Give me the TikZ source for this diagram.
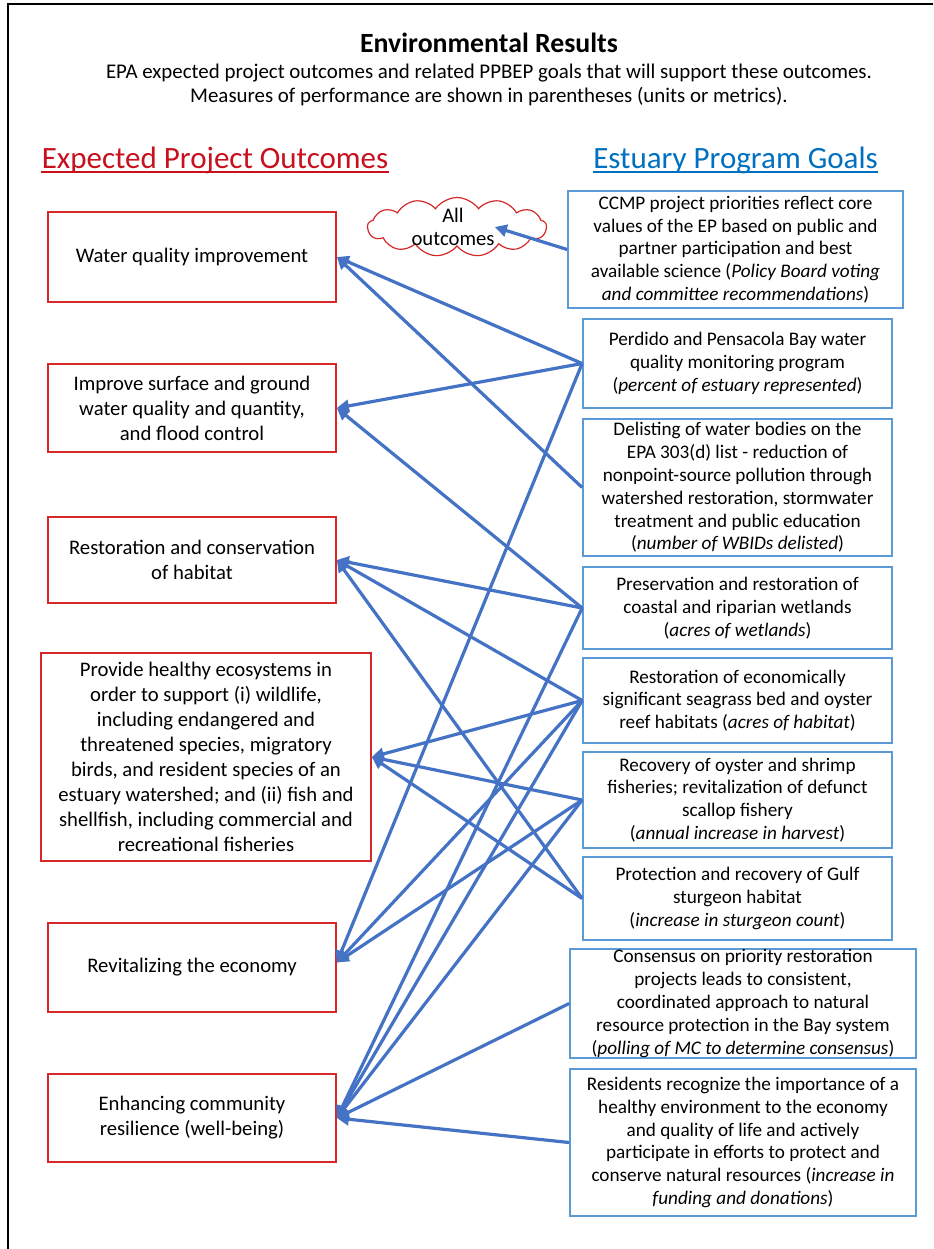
\documentclass[tikz,border=0pt]{standalone}
\usepackage{fontspec}
\setmainfont{Carlito}
\usetikzlibrary{arrows.meta,shapes.symbols}
\definecolor{lred}{RGB}{214,40,40}
\definecolor{hred}{RGB}{200,16,30}
\definecolor{bblue}{RGB}{91,155,213}
\definecolor{hblue}{RGB}{0,112,192}
\definecolor{cblue}{RGB}{68,114,196}
\tikzset{
  lbox/.style={draw=lred, line width=0.85pt, inner sep=0pt, align=center,
    font=\fontsize{10.35}{12.5}\selectfont},
  rbox/.style={draw=bblue, line width=0.85pt, inner sep=0pt, align=center,
    font=\fontsize{9.6}{11.4}\selectfont},
  conn/.style={draw=cblue, line width=1.6pt, -{Triangle[length=6pt,width=6pt]}},
  frameline/.style={draw=black, line width=1.25pt},
  hdr/.style={font=\fontsize{15.5}{18}\selectfont, anchor=base, inner sep=0pt},
}
\begin{document}
\begin{tikzpicture}[x=0.5pt,y=-0.5pt]
\useasboundingbox (0,0) rectangle (933,1249);
\fill[white] (0,0) rectangle (933,1249);
% frame
\draw[frameline] (933,4) -- (8,4) -- (8,1249);

% title
\node[font=\fontsize{13.9}{15}\selectfont\bfseries, anchor=base, inner sep=0pt] (title) at (489,52) {Environmental Results};
\node[font=\fontsize{10.45}{12}\selectfont, anchor=base, inner sep=0pt] (sub1) at (489,78) {EPA expected project outcomes and related PPBEP goals that will support these outcomes.};
\node[font=\fontsize{10.45}{12}\selectfont, anchor=base, inner sep=0pt] (sub2) at (489,102) {Measures of performance are shown in parentheses (units or metrics).};

% headers
\node[hdr, text=hred] (hl) at (215,168) {Expected Project Outcomes};
\draw[hred, line width=1pt] ([yshift=-2pt]hl.base west) -- ([yshift=-2pt]hl.base east);
\node[hdr, text=hblue] (hr) at (735.5,168) {Estuary Program Goals};
\draw[hblue, line width=1pt] ([yshift=-2pt]hr.base west) -- ([yshift=-2pt]hr.base east);

% cloud
\node[cloud, draw=lred, line width=0.6pt, cloud puffs=13, cloud puff arc=110, cloud ignores aspect,
  minimum width=89.5pt, minimum height=29.5pt, inner sep=0pt] (cl) at (457,227) {};
\node[font=\fontsize{10.35}{11.5}\selectfont, align=center, inner sep=0pt] (alltxt) at (453,227) {All\\outcomes};

% left boxes
\node[lbox, minimum width=144pt, minimum height=45pt] (l1) at (192,257) {Water quality improvement};
\node[lbox, minimum width=144pt, minimum height=44pt] (l2) at (192,408) {Improve surface and ground\\water quality and quantity,\\and flood control};
\node[lbox, minimum width=144pt, minimum height=43pt] (l3) at (192,560) {Restoration and conservation\\of habitat};
\node[lbox, minimum width=165pt, minimum height=104pt] (l4) at (206,757) {Provide healthy ecosystems in\\order to support (i) wildlife,\\including endangered and\\threatened species, migratory\\birds, and resident species of an\\estuary watershed; and (ii) fish and\\shellfish, including commercial and\\recreational fisheries};
\node[lbox, minimum width=144pt, minimum height=44.5pt] (l5) at (192,967.5) {Revitalizing the economy};
\node[lbox, minimum width=144pt, minimum height=44pt] (l6) at (192,1118) {Enhancing community\\resilience (well-being)};

% right boxes
\node[rbox, minimum width=167.5pt, minimum height=58.5pt] (r1) at (735.5,249.5) {CCMP project priorities reflect core\\values of the EP based on public and\\partner participation and best\\available science (\textit{Policy Board voting}\\\textit{and committee recommendations})};
\node[rbox, minimum width=154.5pt, minimum height=44.5pt] (r2) at (737.5,363.5) {Perdido and Pensacola Bay water\\quality monitoring program\\(\textit{percent of estuary represented})};
\node[rbox, minimum width=154.5pt, minimum height=68.5pt] (r3) at (737.5,487.5) {Delisting of water bodies on the\\EPA 303(d) list - reduction of\\nonpoint-source pollution through\\watershed restoration, stormwater\\treatment and public education\\(\textit{number of WBIDs delisted})};
\node[rbox, minimum width=154.5pt, minimum height=41pt] (r4) at (737.5,608) {Preservation and restoration of\\coastal and riparian wetlands\\(\textit{acres of wetlands})};
\node[rbox, minimum width=154.5pt, minimum height=42.5pt] (r5) at (737.5,700.5) {Restoration of economically\\significant seagrass bed and oyster\\reef habitats (\textit{acres of habitat})};
\node[rbox, minimum width=154.5pt, minimum height=48pt] (r6) at (737.5,800) {Recovery of oyster and shrimp\\fisheries; revitalization of defunct\\scallop fishery\\(\textit{annual increase in harvest})};
\node[rbox, minimum width=154.5pt, minimum height=41.5pt] (r7) at (737.5,898.5) {Protection and recovery of Gulf\\sturgeon habitat\\(\textit{increase in sturgeon count})};
\node[rbox, minimum width=173pt, minimum height=54.5pt] (r8) at (743,1003.5) {Consensus on priority restoration\\projects leads to consistent,\\coordinated approach to natural\\resource protection in the Bay system\\(\textit{polling of MC to determine consensus})};
\node[rbox, minimum width=173pt, minimum height=73.5pt] (r9) at (743,1142.5) {Residents recognize the importance of a\\healthy environment to the economy\\and quality of life and actively\\participate in efforts to protect and\\conserve natural resources (\textit{increase in}\\\textit{funding and donations})};

% connectors
\draw[conn] (r1.west) -- (alltxt.east);
\draw[conn] (r2.west) -- (l1.east);
\draw[conn] (r3.west) -- (l1.east);
\draw[conn] (r2.west) -- (l2.east);
\draw[conn] (r4.west) -- (l2.east);
\draw[conn] (r4.west) -- (l3.east);
\draw[conn] (r5.west) -- (l3.east);
\draw[conn] (r7.west) -- (l3.east);
\draw[conn] (r5.west) -- (l4.east);
\draw[conn] (r6.west) -- (l4.east);
\draw[conn] (r7.west) -- (l4.east);
\draw[conn] (r2.west) -- ([yshift=2.5pt]l5.east);
\draw[conn] (r5.west) -- ([yshift=2.5pt]l5.east);
\draw[conn] (r6.west) -- ([yshift=2.5pt]l5.east);
\draw[conn] (r4.west) -- (l6.east);
\draw[conn] (r5.west) -- (l6.east);
\draw[conn] (r6.west) -- (l6.east);
\draw[conn] (r8.west) -- (l6.east);
\draw[conn] (r9.west) -- (l6.east);
\end{tikzpicture}
\end{document}
